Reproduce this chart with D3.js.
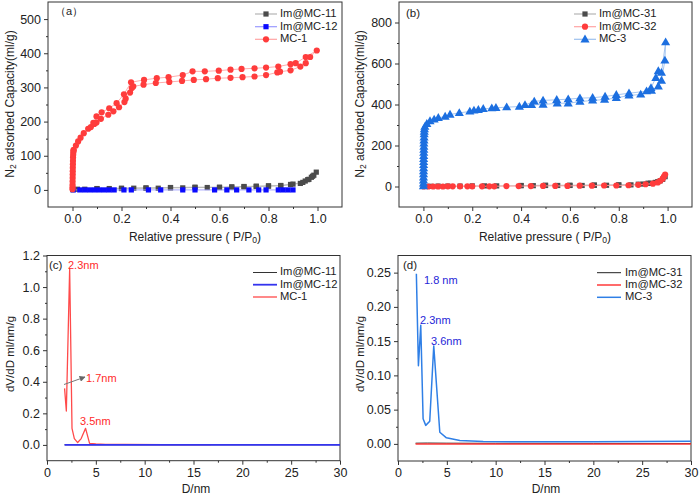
<!DOCTYPE html>
<html><head><meta charset="utf-8">
<script src="https://cdn.jsdelivr.net/npm/d3@7/dist/d3.min.js"></script>
<style>body{margin:0;background:#fff}svg{display:block;font-family:Arial,"Liberation Sans",sans-serif}</style>
</head><body><svg id="c" width="700" height="497"></svg>
<script>
// ---------- DATA ----------
// Panel (a) isotherms [P/P0, V]; order: adsorption up, then desorption down
const mc1 = [[0.0001,2],[0.0002,8],[0.0003,15],[0.0005,25],[0.0007,35],[0.0009,45],[0.0011,55],[0.0013,65],[0.0016,75],[0.0019,85],[0.0023,95],[0.0028,103],[0.0034,110],[0.004,116],[0.005,117],[0.014,130],[0.023,142],[0.033,153],[0.046,166],[0.064,179],[0.075,184],[0.089,193],[0.098,197],[0.116,208],[0.146,220],[0.167,230],[0.19,242],[0.212,257],[0.217,267],[0.235,285],[0.242,298],[0.248,303],[0.29,308],[0.34,313],[0.395,316],[0.447,319],[0.495,322],[0.545,324],[0.593,327],[0.645,328],[0.694,330],[0.743,332],[0.79,336],[0.836,344],[0.847,346],[0.89,350],[0.93,361],[0.952,371],[0.97,389],[0.997,408],
  [0.952,389],[0.911,371],[0.89,368],[0.84,361],[0.79,358],[0.743,356],[0.69,354],[0.645,352],[0.597,349],[0.54,347],[0.49,347],[0.45,336],[0.392,330],[0.344,327],[0.292,322],[0.239,315],[0.21,280],[0.18,254],[0.15,239],[0.119,227],[0.098,215],[0.085,196]];
const imMC11 = [[0.001,1],[0.02,2],[0.05,2],[0.1,3],[0.15,4],[0.2,4],[0.25,5],[0.3,5],[0.35,5],[0.4,6],[0.45,6],[0.5,7],[0.55,7],[0.6,7],[0.65,8],[0.7,9],[0.75,10],[0.8,11],[0.85,12],[0.89,16],[0.93,19],[0.95,26],[0.965,31],[0.975,37],[0.985,43],[0.995,52],
  [0.98,40],[0.96,30],[0.94,22],[0.9,17],[0.85,13],[0.8,12],[0.75,11],[0.7,10],[0.65,9],[0.6,8],[0.5,8],[0.4,7],[0.3,6],[0.2,5],[0.1,4]];
const imMC12 = [[0.003,0],[0.03,0],[0.05,0],[0.07,0],[0.09,0],[0.11,0],[0.13,0],[0.15,0],[0.17,0],[0.21,0],[0.24,0],[0.31,0],[0.36,0],[0.45,0],[0.5,0],[0.58,0],[0.63,0],[0.67,0],[0.72,0],[0.76,0],[0.79,0],[0.84,0],[0.86,0],[0.88,0],[0.9,0]];
// Panel (b)
const mc3 = [[0.0001,2],[0.0002,15],[0.0003,30],[0.0004,45],[0.0005,60],[0.0006,75],[0.0007,90],[0.0008,105],[0.0009,120],[0.001,135],[0.0012,150],[0.0014,165],[0.0016,180],[0.0018,195],[0.002,210],[0.0023,225],[0.0026,240],[0.003,255],[0.0035,268],[0.004,280],[0.006,292],[0.014,306],[0.027,319],[0.044,327],[0.061,335],[0.089,341],[0.109,351],[0.147,359],[0.19,366],[0.207,371],[0.225,374],[0.245,379],[0.28,382],[0.297,384],[0.341,387],[0.393,390],[0.443,398],[0.49,400],[0.548,406],[0.593,406],[0.641,414],[0.693,420],[0.742,424],[0.79,432],[0.842,444],[0.89,449],[0.934,468],[0.962,489],[0.975,517],[0.989,615],[0.992,704],
  [0.975,555],[0.962,563],[0.952,530],[0.932,481],[0.914,465],[0.842,455],[0.79,447],[0.744,439],[0.693,433],[0.641,431],[0.593,426],[0.546,423],[0.49,420],[0.454,415],[0.416,398]];
const imMC31 = [[0.001,1],[0.03,1],[0.06,2],[0.1,2],[0.15,2],[0.2,3],[0.25,3],[0.3,3],[0.4,4],[0.45,4],[0.5,5],[0.55,5],[0.6,5],[0.65,5],[0.7,6],[0.75,6],[0.8,7],[0.85,8],[0.9,12],[0.93,16],[0.95,20],[0.97,28],[0.98,35],[0.99,48],
  [0.96,24],[0.92,16],[0.88,11],[0.8,8],[0.7,7],[0.6,6],[0.5,6],[0.4,5]];
const imMC32 = [[0.001,0],[0.02,0],[0.04,0],[0.06,0],[0.08,0],[0.1,1],[0.12,1],[0.15,1],[0.18,1],[0.2,1],[0.24,1],[0.27,1],[0.29,1],[0.34,2],[0.39,2],[0.44,2],[0.49,3],[0.54,3],[0.59,3],[0.64,4],[0.69,4],[0.74,5],[0.79,5],[0.84,6],[0.88,8],[0.91,11],[0.94,14],[0.96,20],[0.97,28],[0.98,38],[0.985,48],[0.99,58]];
// Panel (c) pore size distribution [D nm, dV/dD]
const psdMC1 = [[1.8,0.358],[1.98,0.215],[2.32,1.116],[2.56,0.105],[2.8,0.04],[3.14,0.015],[3.5,0.04],[3.95,0.105],[4.36,0.01],[5,0.006],[6,0.004],[8,0.003],[12,0.002],[16.8,0.002]];
const psdIm11 = [[1.8,0.001],[5,0.001],[10,0.001],[20,0.001],[30,0.001]];
const psdIm12 = [[1.8,0.0],[5,0.0],[10,0.0],[20,0.0],[30,0.0]];
// Panel (d)
const psdMC3 = [[1.88,0.2485],[2.09,0.114],[2.33,0.173],[2.57,0.0367],[2.84,0.027],[3.25,0.033],[3.66,0.143],[4.28,0.017],[4.96,0.0088],[6.33,0.0049],[8.72,0.0034],[12,0.003],[16,0.003],[20,0.0032],[25,0.0035],[30,0.0039]];
const psdIm31 = [[1.8,0.001],[3,0.0012],[5,0.001],[10,0.0008],[20,0.0006],[30,0.0005]];
const psdIm32 = [[1.8,0.0],[5,0.0],[10,-0.0002],[20,-0.0003],[30,-0.0003]];
// Legends / labels
const legendA = ["Im@MC-11","Im@MC-12","MC-1"];
const legendB = ["Im@MC-31","Im@MC-32","MC-3"];
const legendC = ["Im@MC-11","Im@MC-12","MC-1"];
const legendD = ["Im@MC-31","Im@MC-32","MC-3"];
const ticksIsoX = [0,0.2,0.4,0.6,0.8,1.0];
const ticksAY = [0,100,200,300,400,500];
const ticksBY = [0,200,400,600,800];
const ticksPsdX = [0,5,10,15,20,25,30];
const ticksCY = [0,0.2,0.4,0.6,0.8,1.0,1.2];
const ticksDY = [0,0.05,0.10,0.15,0.20,0.25];

// ---------- DRAW ----------
const svg = d3.select("#c");
const FRAME = "#333";
let clipId = 0;

function panel(o){
  const x = d3.scaleLinear().domain(o.xd).range([o.x0,o.x1]);
  const y = d3.scaleLinear().domain(o.yd).range([o.y1,o.y0]);
  const g = svg.append("g");
  const id = "clip"+(clipId++);
  svg.append("clipPath").attr("id",id).append("rect").attr("x",o.x0).attr("y",o.y0).attr("width",o.x1-o.x0).attr("height",o.y1-o.y0);
  g.append("g").attr("transform",`translate(0,${o.y1})`)
    .call(d3.axisBottom(x).tickValues(o.xt).tickFormat(d3.format(o.xf)).tickSize(4).tickSizeOuter(0).tickPadding(3));
  g.append("g").attr("transform",`translate(0,${o.y1})`)
    .call(d3.axisBottom(x).tickValues(o.xm).tickFormat("").tickSize(2).tickSizeOuter(0));
  g.append("g").attr("transform",`translate(${o.x0},0)`)
    .call(d3.axisLeft(y).tickValues(o.yt).tickFormat(d3.format(o.yf)).tickSize(4).tickSizeOuter(0).tickPadding(3));
  g.append("g").attr("transform",`translate(${o.x0},0)`)
    .call(d3.axisLeft(y).tickValues(o.ym).tickFormat("").tickSize(2).tickSizeOuter(0));
  g.selectAll(".domain").remove();
  g.selectAll(".tick line").attr("stroke",FRAME);
  g.selectAll(".tick text").attr("font-size",12.5).attr("fill","#222");
  g.append("rect").attr("x",o.x0).attr("y",o.y0).attr("width",o.x1-o.x0).attr("height",o.y1-o.y0)
    .attr("fill","none").attr("stroke",FRAME).attr("stroke-width",1);
  const plot = g.append("g").attr("clip-path",`url(#${id})`);
  return {x,y,g,plot};
}

function sym(sel, type, cx, cy, color){
  if(type==="square") sel.append("rect").attr("x",cx-2.6).attr("y",cy-2.6).attr("width",5.2).attr("height",5.2).attr("fill",color);
  else if(type==="circle") sel.append("circle").attr("cx",cx).attr("cy",cy).attr("r",3.1).attr("fill",color);
  else sel.append("path").attr("d",d3.symbol(d3.symbolTriangle,36)()).attr("transform",`translate(${cx},${cy+0.5})`).attr("fill",color);
}

function scatterSeries(p, data, type, color, lineColor){
  const line = d3.line().x(d=>p.x(d[0])).y(d=>p.y(d[1]));
  p.plot.append("path").attr("d",line(data)).attr("fill","none").attr("stroke",lineColor).attr("stroke-width",0.9);
  const gg = p.plot.append("g");
  data.forEach(d=>sym(gg,type,p.x(d[0]),p.y(d[1]),color));
}
function lineSeries(p, data, color, w){
  const line = d3.line().x(d=>p.x(d[0])).y(d=>p.y(d[1]));
  p.plot.append("path").attr("d",line(data)).attr("fill","none").attr("stroke",color).attr("stroke-width",w).attr("stroke-linejoin","round");
}

function title(x,y,rot,parts,size){
  const t = svg.append("text").attr("font-size",size).attr("fill","#222").attr("text-anchor","middle")
    .attr("transform",`translate(${x},${y}) rotate(${rot})`).attr("dominant-baseline","middle");
  parts.forEach(pt=>{
    if(pt.sub) t.append("tspan").attr("font-size",size*0.72).attr("dy",3).text(pt.t);
    else t.append("tspan").attr("dy",pt.after? -3:0).text(pt.t);
  });
}

const GRAY="#4b4b4b", GRAYL="#b5b5b5", BLUE="#0a0aff", BLUEL="#9a9aff", RED="#ff3c3c", REDL="#ffa3a3", TRI="#1c6fe0", TRIL="#9cc0ee";

const pa = panel({x0:48,x1:342,y0:2,y1:207,xd:[-0.1,1.1],yd:[-50,550],xt:ticksIsoX,xm:[0.1,0.3,0.5,0.7,0.9],xf:".1f",yt:ticksAY,ym:[50,150,250,350,450],yf:"d"});
scatterSeries(pa, imMC11, "square", GRAY, GRAYL);
scatterSeries(pa, imMC12, "square", BLUE, BLUEL);
scatterSeries(pa, mc1, "circle", RED, REDL);
const pb = panel({x0:399,x1:692,y0:2,y1:207,xd:[-0.1,1.1],yd:[-100,900],xt:ticksIsoX,xm:[0.1,0.3,0.5,0.7,0.9],xf:".1f",yt:ticksBY,ym:[100,300,500,700],yf:"d"});
scatterSeries(pb, imMC31, "square", GRAY, GRAYL);
scatterSeries(pb, imMC32, "circle", RED, REDL);
scatterSeries(pb, mc3, "triangle", TRI, TRIL);
const pc = panel({x0:47,x1:340,y0:255.5,y1:460.7,xd:[0,30],yd:[-0.1,1.2],xt:ticksPsdX,xm:[2.5,7.5,12.5,17.5,22.5,27.5],xf:"d",yt:ticksCY,ym:[0.1,0.3,0.5,0.7,0.9,1.1],yf:".1f"});
lineSeries(pc, psdIm11, "#333", 1);
lineSeries(pc, psdMC1, "#ff4a4a", 1.3);
lineSeries(pc, psdIm12, "#3434ee", 1.8);
const pd = panel({x0:398,x1:691,y0:255.5,y1:461,xd:[0,30],yd:[-0.025,0.275],xt:ticksPsdX,xm:[2.5,7.5,12.5,17.5,22.5,27.5],xf:"d",yt:ticksDY,ym:[0.025,0.075,0.125,0.175,0.225],yf:".2f"});
lineSeries(pd, psdIm31, "#222", 1);
lineSeries(pd, psdIm32, "#ff3a3a", 1.5);
lineSeries(pd, psdMC3, "#2f7fe6", 1.5);

function legend(x0, lx1, tx, ys, names, specs){
  names.forEach((n,i)=>{
    const s = specs[i];
    svg.append("line").attr("x1",x0).attr("x2",lx1).attr("y1",ys[i]).attr("y2",ys[i]).attr("stroke",s.line).attr("stroke-width",s.w||1.2);
    if(s.type) sym(svg,s.type,(x0+lx1)/2,ys[i],s.color);
    svg.append("text").attr("x",tx).attr("y",ys[i]).attr("dominant-baseline","middle").attr("font-size",11.2).attr("fill","#222").text(n);
  });
}
legend(255,277,280,[14,26.7,39.3],legendA,[{line:GRAYL,type:"square",color:GRAY},{line:BLUEL,type:"square",color:BLUE},{line:REDL,type:"circle",color:RED}]);
legend(574,596,599,[14,26.7,39.3],legendB,[{line:GRAYL,type:"square",color:GRAY},{line:REDL,type:"circle",color:RED},{line:TRIL,type:"triangle",color:TRI}]);
legend(253,277,280,[272.5,284.7,297],legendC,[{line:"#333",w:1},{line:"#3434ee",w:1.8},{line:"#ff4a4a",w:1.3}]);
legend(597,621,625,[272.7,285,297.3],legendD,[{line:"#222",w:1},{line:"#ff3a3a",w:1.5},{line:"#2f7fe6",w:1.5}]);

function txt(x,y,s,color,size,anchor){
  svg.append("text").attr("x",x).attr("y",y).attr("dominant-baseline","middle").attr("font-size",size).attr("fill",color).attr("text-anchor",anchor||"start").text(s);
}
txt(55,12,"（a）","#222",11);
txt(406,14,"(b)","#222",11.5);
txt(49,266,"(c)","#222",11.5);
txt(403,266,"(d)","#222",11.5);
txt(68,266,"2.3nm","#ff2a2a",11);
txt(86,379,"1.7nm","#ff2a2a",11);
txt(80,422,"3.5nm","#ff2a2a",11);
txt(424,281,"1.8 nm","#2626d8",11);
txt(420,321,"2.3nm","#2626d8",11);
txt(431,342,"3.6nm","#2626d8",11);
svg.append("defs").append("marker").attr("id","arr").attr("viewBox","0 0 10 10").attr("refX",9).attr("refY",5)
  .attr("markerWidth",6).attr("markerHeight",6).attr("orient","auto").append("path").attr("d","M0,0L10,5L0,10z").attr("fill","#666");
svg.append("line").attr("x1",64).attr("y1",384.5).attr("x2",85).attr("y2",377).attr("stroke","#777").attr("stroke-width",1).attr("marker-end","url(#arr)");

title(11,104,-90,[{t:"N"},{t:"2",sub:true},{t:" adsorbed Capacity(ml/g)",after:true}],12);
title(195,238,0,[{t:"Relative pressure ( P/P"},{t:"0",sub:true},{t:")",after:true}],12);
title(361,104,-90,[{t:"N"},{t:"2",sub:true},{t:" adsorbed Capacity(ml/g)",after:true}],12);
title(545,238,0,[{t:"Relative pressure ( P/P"},{t:"0",sub:true},{t:")",after:true}],12);
title(11,354,-90,[{t:"dV/dD ml/nm/g"}],11.5);
title(361,354,-90,[{t:"dV/dD ml/nm/g"}],11.5);
title(196,490,0,[{t:"D/nm"}],12);
title(546,490,0,[{t:"D/nm"}],12);
</script></body></html>
